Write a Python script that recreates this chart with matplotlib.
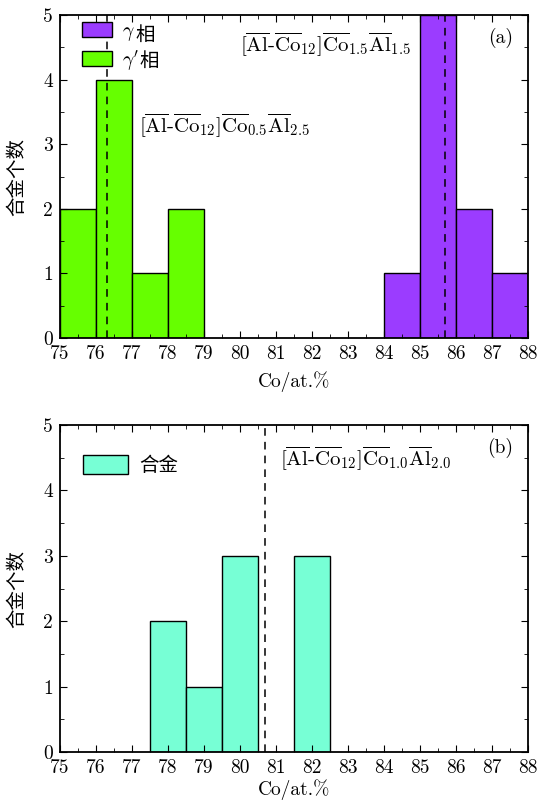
import matplotlib
matplotlib.use("Agg")
from matplotlib import pyplot as plt
from matplotlib.ticker import MultipleLocator
import numpy as np

plt.rcParams['font.family'] = ['cmr10', 'Noto Sans CJK SC']
plt.rcParams['mathtext.fontset'] = 'cm'
plt.rcParams['axes.unicode_minus'] = False

# panel (a) data
gp_left = [75, 76, 77, 78]
gp_count = [2, 4, 1, 2]
g_left = [84, 85, 86, 87]
g_count = [1, 5, 2, 1]
gp_mean = 76.3
g_mean = 85.7

# panel (b) data
b_left = [77.5, 78.5, 79.5, 81.5]
b_count = [2, 1, 3, 3]
b_mean = 80.7

green = '#66ff00'
purple = '#9b3cff'
aqua = '#77ffd5'

fig = plt.figure(figsize=(5.42, 8.02), dpi=100)
ax1 = fig.add_axes([60/542, 1 - 338/802, 468/542, 323/802])
ax2 = fig.add_axes([60/542, 1 - 752/802, 468/542, 327/802])

def style(ax, xpad):
    ax.set_xlim(75, 88)
    ax.set_ylim(0, 5)
    ax.xaxis.set_major_locator(MultipleLocator(1))
    ax.xaxis.set_minor_locator(MultipleLocator(0.5))
    ax.yaxis.set_major_locator(MultipleLocator(1))
    ax.yaxis.set_minor_locator(MultipleLocator(0.5))
    ax.tick_params(which='both', direction='in', top=True, right=True, labelsize=14)
    ax.tick_params(axis='x', pad=5)
    ax.tick_params(axis='y', pad=5)
    ax.tick_params(which='major', length=5)
    ax.tick_params(which='minor', length=3)
    ax.set_xlabel('Co/at.%', fontsize=14, labelpad=xpad)
    ax.set_ylabel('合金个数', fontsize=14, labelpad=12)
    for s in ax.spines.values():
        s.set_linewidth(1.3)

def add_cjk(ax, leg, suffix):
    # mathtext can't draw CJK, so put the Chinese part right after the legend text
    for t in leg.get_texts():
        ax.annotate(suffix, xy=(1, 0.5), xycoords=t, xytext=(0.5, -1), textcoords='offset points',
                    ha='left', va='center', fontsize=14, zorder=10,
                    family='Noto Sans CJK SC')

ax1.bar(g_left, g_count, width=1, align='edge', color=purple, edgecolor='black', linewidth=1, label=r'$\gamma$')
ax1.bar(gp_left, gp_count, width=1, align='edge', color=green, edgecolor='black', linewidth=1, label=r"$\gamma'$")
ax1.axvline(gp_mean, color='black', linestyle='--', linewidth=1.1, dashes=(5, 4))
ax1.axvline(g_mean, color='black', linestyle='--', linewidth=1.1, dashes=(5, 4))
style(ax1, 6)
leg1 = ax1.legend(loc='upper left', frameon=False, fontsize=14, handlelength=1.55, handleheight=0.8,
                  borderpad=0, borderaxespad=0, labelspacing=0.25, handletextpad=0.5,
                  bbox_to_anchor=(22/468, 1 - 7/323))
add_cjk(ax1, leg1, '相')
ax1.text(77.2, 3.3, r'$[\overline{\mathrm{Al}}$-$\overline{\mathrm{Co}}_{12}]\overline{\mathrm{Co}}_{0.5}\overline{\mathrm{Al}}_{2.5}$',
         fontsize=15, va='center')
ax1.text(80.0, 4.55, r'$[\overline{\mathrm{Al}}$-$\overline{\mathrm{Co}}_{12}]\overline{\mathrm{Co}}_{1.5}\overline{\mathrm{Al}}_{1.5}$',
         fontsize=15, va='center')
ax1.text(87.6, 4.65, '(a)', fontsize=14, ha='right', va='center')

ax2.bar(b_left, b_count, width=1, align='edge', color=aqua, edgecolor='black', linewidth=1, label='合金')
ax2.axvline(b_mean, color='black', linestyle='--', linewidth=1.1, dashes=(5, 4))
style(ax2, 2)
ax2.legend(loc='upper left', frameon=False, fontsize=14, handlelength=2.3, handleheight=1.15,
           borderpad=0, borderaxespad=0, handletextpad=0.6,
           bbox_to_anchor=(23/468, 1 - 30/327))
ax2.text(81.1, 4.5, r'$[\overline{\mathrm{Al}}$-$\overline{\mathrm{Co}}_{12}]\overline{\mathrm{Co}}_{1.0}\overline{\mathrm{Al}}_{2.0}$',
         fontsize=15, va='center')
ax2.text(87.6, 4.65, '(b)', fontsize=14, ha='right', va='center')

fig.savefig('out.png', dpi=100)
